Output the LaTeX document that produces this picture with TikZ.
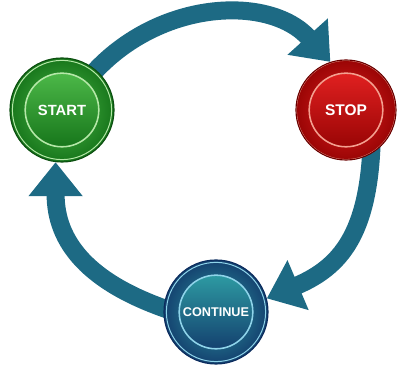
\documentclass[tikz,border=0pt]{standalone}
\usepackage{fontspec}
\newfontfamily\btnfont{Liberation Sans}
\usetikzlibrary{arrows.meta,backgrounds}

\definecolor{cyclecol}{HTML}{1D6A84}
\definecolor{greenhi}{HTML}{4CB848}
\definecolor{greenlo}{HTML}{17761B}
\definecolor{greenrim}{HTML}{0C4F10}
\definecolor{greenline}{HTML}{B5E8A8}
\definecolor{redhi}{HTML}{E02020}
\definecolor{redlo}{HTML}{9A0505}
\definecolor{redrim}{HTML}{6A0000}
\definecolor{redline}{HTML}{F4A090}
\definecolor{bluehi}{HTML}{2D9AA2}
\definecolor{bluelo}{HTML}{14416F}
\definecolor{bluerim}{HTML}{0B2C5E}
\definecolor{blueline}{HTML}{8FD4EA}

\tikzset{
  btn/.style n args={4}{circle, minimum size=2.6cm, inner sep=0pt,
    draw=#3, line width=0.8pt, inner color=#1, outer color=#2,
    path picture={
      \draw[#4, line width=0.7pt] (path picture bounding box.center) circle (1.24cm);
      \shade[top color=#1, bottom color=#2, draw=#4, line width=1.1pt]
        (path picture bounding box.center) circle (0.92cm);
    },
    text=white, font=\btnfont\bfseries},
  cyclearrow/.style={draw=cyclecol, line width=0.45cm,
    -{Triangle[width=1.3cm, length=0.85cm]}, shorten <=-0.3cm}
}

\begin{document}
\begin{tikzpicture}[x=0.025cm, y=0.025cm]
  \useasboundingbox (0,0) rectangle (404,366);

  \node[btn={greenhi}{greenlo}{greenrim}{greenline}, font=\btnfont\bfseries\fontsize{10.5}{10}\selectfont]
    (start) at (62,256) {START};
  \node[btn={redhi}{redlo}{redrim}{redline}, minimum size=2.5cm, font=\btnfont\bfseries\fontsize{11}{11}\selectfont]
    (stop) at (346,256) {STOP};
  \node[btn={bluehi}{bluelo}{bluerim}{blueline}, font=\btnfont\bfseries\fontsize{9}{9}\selectfont]
    (cont) at (216,54) {CONTINUE};

  \begin{scope}[on background layer]
    \draw[cyclearrow] (start.50) to[out=50, in=132] (stop.108);
    \draw[cyclearrow] (stop.-60) to[out=-92, in=23, looseness=1.15] (cont.15);
    \draw[cyclearrow] (cont.176) to[out=162, in=-90, looseness=1.12] (start.-97);
  \end{scope}
\end{tikzpicture}
\end{document}
